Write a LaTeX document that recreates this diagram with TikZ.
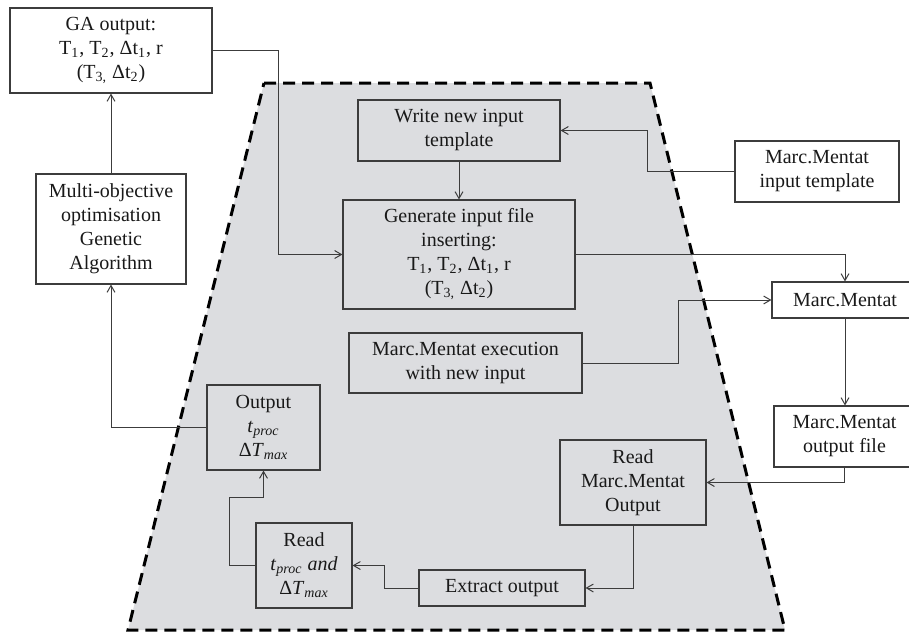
\documentclass[tikz,border=0pt]{standalone}
\usepackage{fontspec}
\setmainfont{Liberation Serif}
\usetikzlibrary{arrows}

\definecolor{zone}{RGB}{220,221,224}
\definecolor{ink}{RGB}{60,60,60}

\tikzset{
  blk/.style={draw=ink, line width=0.55pt, align=center, inner sep=0pt,
              font=\fontsize{10}{12}\selectfont, text=black!90},
  link/.style={->, draw=ink, line width=0.5pt}
}

\begin{document}
\begin{tikzpicture}[x=0.5pt,y=-0.5pt,>=angle 60]
  \useasboundingbox (0,0) rectangle (909,632);

  % dashed region
  \fill[zone] (264,83) -- (650,83) -- (785,630) -- (128,630) -- cycle;
  \draw[black, line width=1.5pt, dash pattern=on 6pt off 3.5pt]
        (264,83) -- (650,83) -- (785,630) -- (128,630) -- cycle;

  \node[blk, fill=white, minimum width=101pt, minimum height=42.5pt] (ga)  at (111,50.5)
        {GA output:\\T\textsubscript{1}, T\textsubscript{2}, Δt\textsubscript{1}, r\\(T\textsubscript{3,} Δt\textsubscript{2})};
  \node[blk, fill=white, minimum width=75pt, minimum height=55pt] (moga) at (111,229)
        {Multi-objective\\optimisation\\Genetic\\Algorithm};

  \node[blk, minimum width=101pt, minimum height=30.5pt] (write) at (459,130.5)
        {Write new input\\template};
  \node[blk, minimum width=116pt, minimum height=54.5pt] (gen) at (459,254.5)
        {Generate input file\\inserting:\\T\textsubscript{1}, T\textsubscript{2}, Δt\textsubscript{1}, r\\(T\textsubscript{3,} Δt\textsubscript{2})};
  \node[blk, minimum width=116.5pt, minimum height=30pt] (exec) at (465.5,363)
        {Marc.Mentat execution\\with new input};
  \node[blk, minimum width=56.5pt, minimum height=42.5pt] (out) at (263.5,427.5)
        {Output\\\textit{t}\textsubscript{\textit{proc}}\\Δ\textit{T}\textsubscript{\textit{max}}};
  \node[blk, minimum width=48pt, minimum height=42.5pt] (readt) at (304,565.5)
        {Read\\\textit{t}\textsubscript{\textit{proc}} \textit{and}\\Δ\textit{T}\textsubscript{\textit{max}}};
  \node[blk, minimum width=83pt, minimum height=18pt] (extr) at (502,588)
        {Extract output};
  \node[blk, minimum width=73pt, minimum height=42.5pt] (readmm) at (633,482.5)
        {Read\\Marc.Mentat\\Output};

  \node[blk, fill=white, minimum width=82pt, minimum height=30.5pt] (mmin) at (817,171.5)
        {Marc.Mentat\\input template};
  \node[blk, fill=white, minimum width=73pt, minimum height=18pt] (mm) at (845,300)
        {Marc.Mentat};
  \node[blk, fill=white, minimum width=70.5pt, minimum height=30.5pt] (mmout) at (844.5,436.5)
        {Marc.Mentat\\output file};

  \draw[link] (moga.north) -- (ga.south);
  \draw[link] (out.west) -| (moga.south);
  \draw[link] (ga.east) -- ++(66,0) |- (gen.west);
  \draw[link] (mmin.west) -- ++(-87,0) |- (write.east);
  \draw[link] (write.south) -- (gen.north);
  \draw[link] (gen.east) -| (mm.north);
  \draw[link] (exec.east) -- ++(96,0) |- (mm.west);
  \draw[link] (mm.south) -- (mm.south |- mmout.north);
  \draw[link] (mmout.south) |- (readmm.east);
  \draw[link] (readmm.south) |- (extr.east);
  \draw[link] (extr.west) -- ++(-34,0) |- (readt.east);
  \draw[link] (readt.west) -- ++(-26,0) -- ++(0,-68.5) -| (out.south);
\end{tikzpicture}
\end{document}
